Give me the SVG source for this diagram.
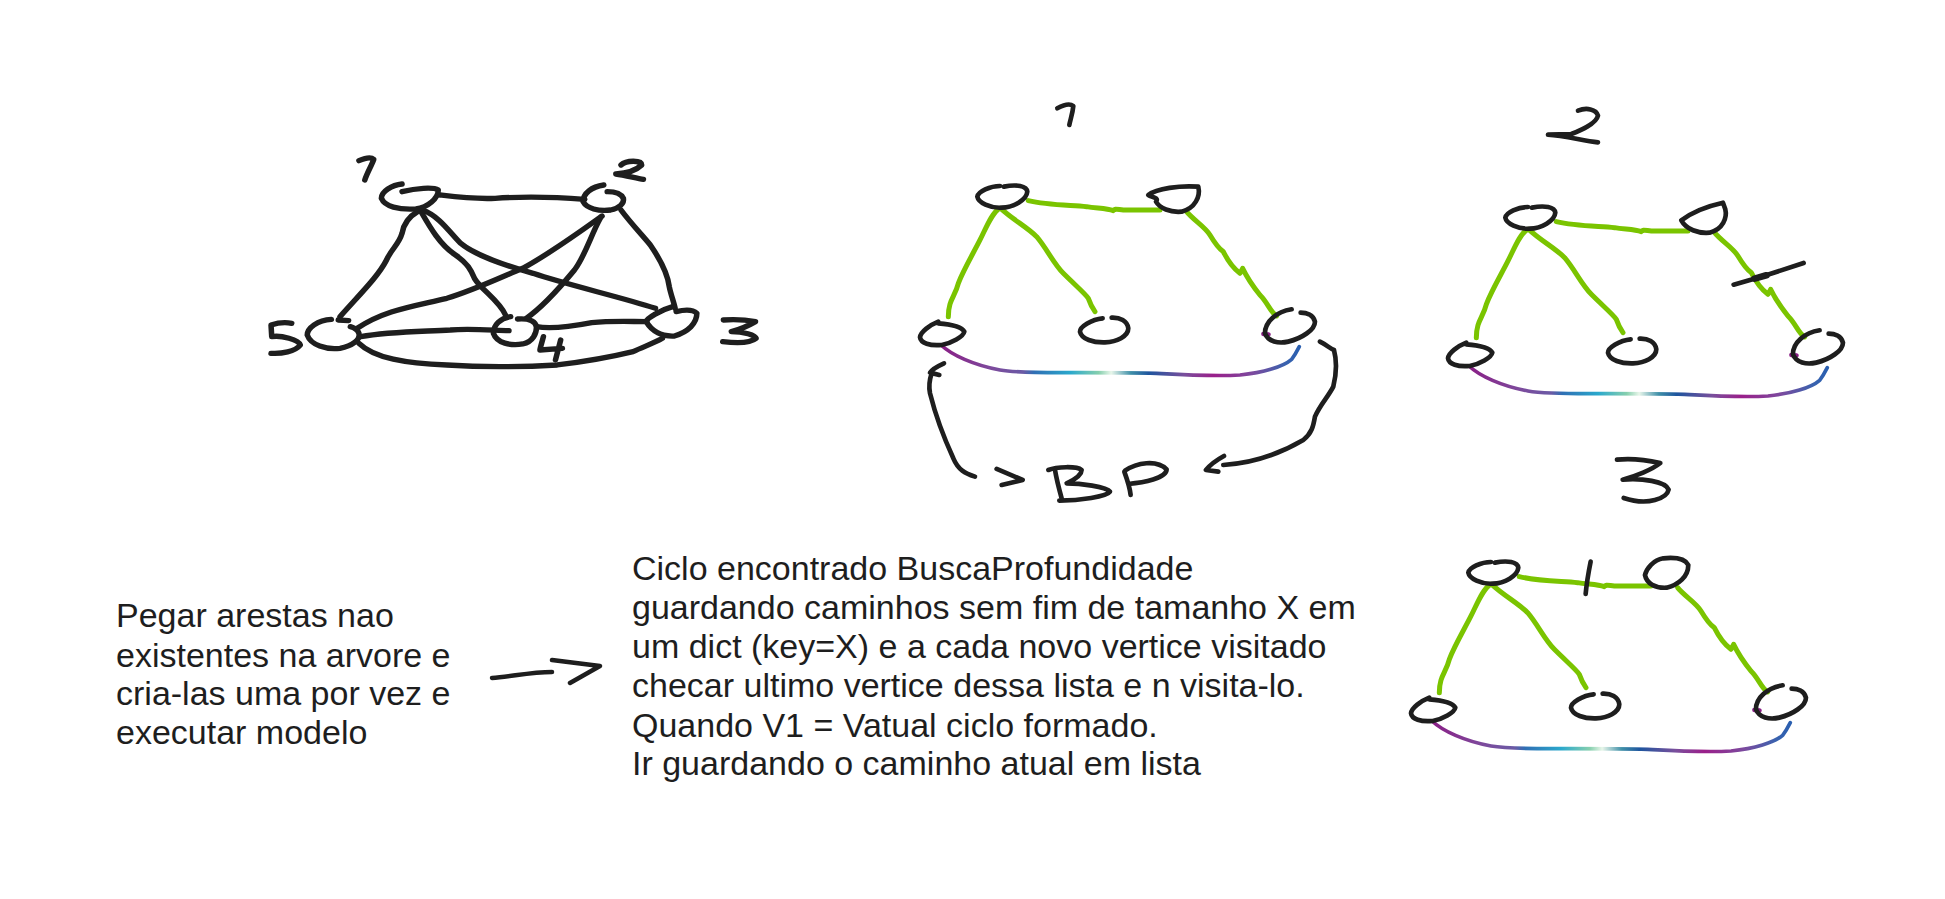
<svg xmlns="http://www.w3.org/2000/svg" width="1945" height="899" viewBox="0 0 1945 899">
<style>
.k{fill:none;stroke:#1e1e1e;stroke-width:14;stroke-linecap:round;stroke-linejoin:round}
#graph .k{stroke-width:16}
.g{fill:none;stroke:#7ac400;stroke-width:15;stroke-linecap:round;stroke-linejoin:round}
.r{fill:none;stroke:url(#galaxy);stroke-width:11;stroke-linecap:round}
.d{fill:none;stroke:#8a1f86;stroke-width:13;stroke-linecap:round}
.t{font-family:"Liberation Sans",Arial,sans-serif;font-size:34px;fill:#1e1e1e}
</style>
<defs>
<linearGradient id="galaxy" gradientUnits="userSpaceOnUse" x1="183" y1="0" x2="1258" y2="0">
<stop offset="0" stop-color="#8a1f86"/><stop offset=".14" stop-color="#7d4a9c"/><stop offset=".23" stop-color="#6a5aa5"/><stop offset=".26" stop-color="#2f6fb4"/><stop offset=".36" stop-color="#2aa8cc"/><stop offset=".44" stop-color="#86cfae"/><stop offset=".475" stop-color="#e8f6ea"/><stop offset=".53" stop-color="#3f8fa8"/><stop offset=".58" stop-color="#1e559e"/><stop offset=".68" stop-color="#7a4f9c"/><stop offset=".76" stop-color="#9a1f8a"/><stop offset=".87" stop-color="#7c4a9e"/><stop offset=".96" stop-color="#3a62ae"/><stop offset="1" stop-color="#2a5fb0"/>
</linearGradient>
<path id="nA" class="k" d="M360 318C330 318 295 335 292 350C295 368 330 385 365 383C400 382 440 360 442 335C440 318 410 312 372 320"/>
<path id="nB" class="k" d="M805 345C830 325 900 316 955 320C962 350 945 385 905 395C870 398 840 385 828 365C838 352 815 352 805 345"/>
<path id="nC" class="k" d="M175 725C150 735 122 755 120 772C122 790 150 798 185 795C215 790 250 770 253 755C245 740 215 733 175 730"/>
<path id="nD" class="k" d="M668 715C635 718 600 740 600 755C605 778 640 788 675 787C710 785 745 770 745 745C742 722 720 712 695 713"/>
<path id="nE" d="M1235 688C1190 695 1155 725 1155 760C1165 785 1195 792 1225 785C1265 775 1305 750 1305 725C1300 705 1280 698 1262 698" class="k"/>
<path id="eAC" class="g" d="M358 385C335 400 320 440 300 480C280 520 250 570 235 610C225 650 205 660 205 710"/>
<path id="eAD" class="g" d="M362 385C400 420 440 440 470 470C500 505 520 550 550 580C585 615 615 640 625 655C632 675 638 685 645 695"/>
<path id="eAB" class="g" d="M445 362C500 375 560 375 620 380C650 385 680 385 700 392C705 385 710 388 730 390L840 390"/>
<path id="eBE" class="g" d="M920 395C940 420 975 440 990 465C1005 490 1015 505 1030 515C1045 545 1060 565 1080 580L1088 565C1100 590 1120 620 1140 645C1165 670 1170 695 1190 708"/>
<path id="eCE" class="r" d="M183 795C215 825 280 855 360 870C420 880 500 878 600 878C680 878 760 878 830 880C920 885 1000 890 1080 885C1150 878 1210 860 1235 838C1245 825 1252 812 1258 800"/>
<path id="eDot" class="d" d="M1150 762L1166 763"/>
</defs>
<g id="graph" transform="translate(240 130) scale(.3448 .3333)">
<g id="graph-connectors">
<path class="k" d="M580 195C620 200 680 208 740 205C810 200 900 200 1000 208"/>
<path class="k" d="M515 245C490 260 475 280 470 310C460 345 440 355 425 390C400 440 350 490 290 560"/>
<path class="k" d="M525 245C550 290 580 345 625 375C660 400 670 420 680 445C700 480 750 510 770 555"/>
<path class="k" d="M530 240C580 260 610 310 640 340C680 375 780 410 850 430C950 465 1100 500 1205 535"/>
<path class="k" d="M1050 258C980 310 900 370 820 415C760 440 680 480 600 505C500 530 420 540 340 595"/>
<path class="k" d="M1045 265C1020 310 1000 380 970 420C930 470 880 530 830 565"/>
<path class="k" d="M1105 240C1130 275 1170 320 1190 345C1220 390 1240 430 1245 470C1250 495 1258 515 1262 535"/>
<path class="k" d="M350 620C430 605 520 605 610 600C660 595 720 600 780 602"/>
<path class="k" d="M860 590C900 598 960 590 1020 578C1080 572 1130 575 1180 575"/>
<path class="k" d="M345 640C390 685 480 700 600 705C700 712 800 712 920 705C1000 695 1080 680 1140 665C1170 650 1200 640 1225 625"/>
</g>
<g id="g-node-1"><path class="k" d="M470 162C440 165 410 185 410 205C420 230 460 240 510 237C545 232 575 205 575 180C560 170 510 175 470 185"/><path class="k" d="M345 92C360 85 380 80 388 88C380 110 368 130 362 150"/></g>
<g id="g-node-2"><path class="k" d="M1055 165C1020 170 995 190 995 215C1005 235 1040 245 1075 240C1100 235 1115 220 1112 205C1105 190 1085 185 1065 185"/><path class="k" d="M1105 105C1120 90 1165 90 1165 105C1150 120 1120 130 1090 132C1115 135 1150 145 1170 148"/></g>
<g id="g-node-3"><path class="k" d="M1255 530C1220 540 1180 565 1178 575C1195 605 1225 620 1260 618C1300 605 1325 580 1325 550C1310 535 1285 540 1265 545"/><path class="k" d="M1402 570C1430 568 1470 570 1495 575C1470 590 1445 600 1425 605C1460 605 1495 615 1497 625C1480 640 1440 640 1400 635"/></g>
<g id="g-node-4"><path class="k" d="M785 560C755 565 735 585 735 610C745 640 785 648 820 642C850 635 860 610 860 590C855 570 830 565 805 567"/><path class="k" d="M880 620C875 640 870 655 870 660L935 655M930 630L915 690"/></g>
<g id="g-node-5"><path class="k" d="M265 568C225 570 195 595 195 615C205 645 250 660 290 655C325 648 350 630 345 610C340 595 320 590 320 590M285 570L315 572"/><path class="k" d="M150 580C125 575 105 580 90 585L92 620C120 615 170 630 175 645C160 665 120 672 90 670"/></g>
</g>
<g id="tree-1" transform="translate(880 80) scale(.3333)">
<g id="t1-connectors"><use href="#eAB"/><use href="#eAC"/><use href="#eAD"/><use href="#eBE"/><use href="#eCE"/><use href="#eDot"/></g>
<g id="t1-a"><use href="#nA"/></g><g id="t1-b"><use href="#nB"/></g><g id="t1-c"><use href="#nC"/></g><g id="t1-d"><use href="#nD"/></g><g id="t1-e"><use href="#nE"/></g>
<g id="t1-label"><path class="k" d="M532 85C550 75 570 70 580 78C578 100 572 115 568 135"/></g>
<g id="t1-bp">
<path class="k" d="M285 1190C255 1180 235 1170 220 1135C190 1070 165 1000 150 940C145 915 150 895 155 880M192 850C170 860 155 870 150 878L178 885"/>
<path class="k" d="M350 1167L428 1200L365 1215"/>
<path class="k" d="M505 1170C530 1160 590 1158 605 1170C605 1190 570 1205 560 1210C600 1210 680 1220 690 1235C680 1250 600 1262 538 1262M525 1170C530 1200 538 1230 545 1255"/>
<path class="k" d="M733 1175C742 1200 750 1225 752 1245M735 1172C770 1148 830 1138 860 1168C860 1195 790 1208 745 1212"/>
<path class="k" d="M1320 785C1340 795 1350 805 1362 810C1370 840 1370 880 1360 920C1345 950 1320 975 1305 1010C1300 1040 1295 1060 1270 1080C1210 1115 1130 1150 1030 1155M1032 1128C1010 1140 990 1155 978 1170L1015 1175"/>
</g>
</g>
<g id="tree-2" transform="translate(1408 101) scale(.3333)">
<g id="t2-connectors"><use href="#eAB"/><use href="#eAC"/><use href="#eAD"/><use href="#eBE"/><use href="#eCE"/><use href="#eDot"/></g>
<g id="t2-a"><use href="#nA"/></g><g id="t2-b"><path class="k" d="M820 358C850 335 900 315 945 305L952 325C958 350 945 385 905 395C870 398 835 385 820 358"/></g><g id="t2-c"><use href="#nC"/></g><g id="t2-d"><use href="#nD"/></g><g id="t2-e"><use href="#nE"/></g>
<path class="k" d="M977 551L1065 526L1187 486"/><path class="k" style="stroke-width:20" d="M1040 533L1075 523"/>
<g id="t2-label"><path class="k" d="M510 29C535 19 565 24 570 44C565 69 515 89 490 99L420 101C470 104 525 119 570 124"/></g>
</g>
<g id="tree-3" transform="translate(1371 456) scale(.3333)">
<g id="t3-connectors"><use href="#eAB"/><use href="#eAC"/><use href="#eAD"/><use href="#eBE"/><use href="#eCE"/><use href="#eDot"/></g>
<g id="t3-a"><use href="#nA"/></g><g id="t3-b"><path class="k" d="M877 307C847 312 827 337 822 357C827 382 852 397 887 395C922 387 952 362 952 327C942 307 907 304 877 307"/></g><g id="t3-c"><use href="#nC"/></g><g id="t3-d"><use href="#nD"/></g><g id="t3-e"><use href="#nE"/></g>
<path class="k" d="M659 317C652 352 647 382 644 414"/>
<g id="t3-label"><path class="k" d="M738 11C783 6 823 11 868 21C843 41 793 61 755 71C813 66 883 76 893 101C888 126 833 151 758 126"/></g>
</g>
<path id="arrow" d="M492 678C510 677 530 672 552 672M552 660L600 666L570 683" fill="none" stroke="#1e1e1e" stroke-width="4.5" stroke-linecap="round" stroke-linejoin="round"/>
<g id="note-left" class="t">
<text x="116" y="627">Pegar arestas nao</text>
<text x="116" y="667">existentes na arvore e</text>
<text x="116" y="705">cria-las uma por vez e</text>
<text x="116" y="744">executar modelo</text>
</g>
<g id="note-right" class="t">
<text x="632" y="580">Ciclo encontrado BuscaProfundidade</text>
<text x="632" y="619">guardando caminhos sem fim de tamanho X em</text>
<text x="632" y="658">um dict (key=X) e a cada novo vertice visitado</text>
<text x="632" y="697">checar ultimo vertice dessa lista e n visita-lo.</text>
<text x="632" y="737">Quando V1 = Vatual ciclo formado.</text>
<text x="632" y="775">Ir guardando o caminho atual em lista</text>
</g>
</svg>
